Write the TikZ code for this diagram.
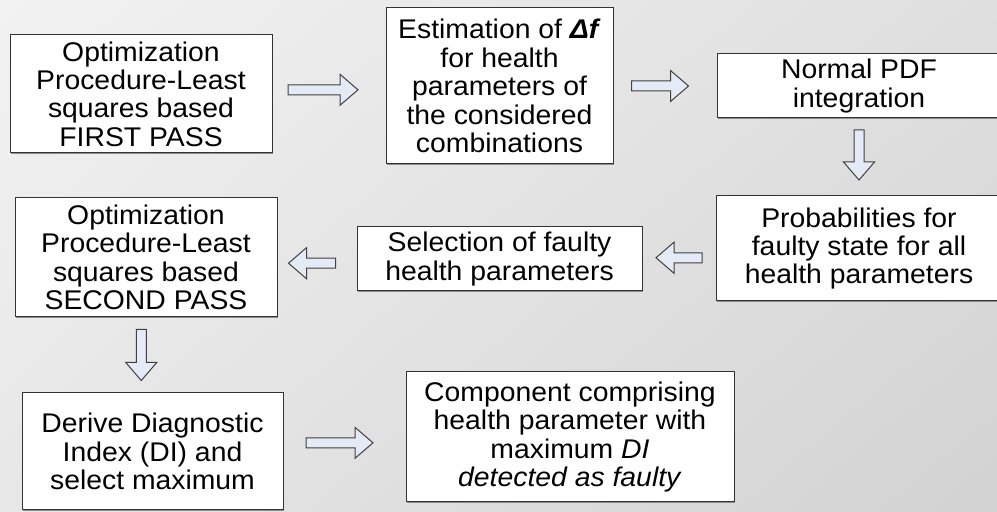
\documentclass[tikz,border=0pt]{standalone}
\usepackage{fontspec}
\setmainfont{Liberation Sans}[FakeStretch=1.05]
\usetikzlibrary{shadows,shadings}

\definecolor{bgUL}{HTML}{F2F2F2}
\definecolor{bgUR}{HTML}{DFDFDF}
\definecolor{bgLL}{HTML}{E7E7E7}
\definecolor{bgLR}{HTML}{D2D2D2}
\definecolor{arrowfill}{HTML}{E4EBF6}

\tikzset{
  stagebox/.style={draw=black!80, line width=0.5pt, fill=white, align=center, inner sep=0pt,
    font=\fontsize{13.5}{14.2}\selectfont,
    drop shadow={shadow xshift=0.7pt, shadow yshift=-0.7pt, fill=black!45, opacity=1}},
  hollow/.style={draw=black!75, line width=0.5pt, fill=arrowfill},
  pics/flowarrow/.style={code={
    \draw[hollow] (-#1/2,-5) -- (#1/2-18,-5) -- (#1/2-18,-15.5) -- (#1/2,0)
      -- (#1/2-18,15.5) -- (#1/2-18,5) -- (-#1/2,5) -- cycle;}}
}

\begin{document}
\begin{tikzpicture}[x=0.5pt, y=-0.5pt]

	% page and background
	\useasboundingbox (0,0) rectangle (997,512);
	\shade[upper left=bgUL, upper right=bgUR, lower left=bgLL, lower right=bgLR] (0,0) rectangle (997,512);
	\clip (0,0) rectangle (997,512);

	% first row
	\node[stagebox, minimum width=131, minimum height=59] (firstpass) at (141,94)
		{Optimization\\Procedure-Least\\squares based\\FIRST PASS};
	\node[stagebox, minimum width=113.5, minimum height=78] (estimation) at (499.5,86)
		{Estimation of \textbf{\textit{Δf}}\\for health\\parameters of\\the considered\\combinations};
	\node[stagebox, minimum width=142, minimum height=32] (pdfint) at (859,86)
		{Normal PDF\\integration};

	% second row
	\node[stagebox, minimum width=143, minimum height=52.5] (probs) at (859,248.5)
		{Probabilities for\\faulty state for all\\health parameters};
	\node[stagebox, minimum width=142.5, minimum height=32] (selection) at (499.5,259)
		{Selection of faulty\\health parameters};
	\node[stagebox, minimum width=131, minimum height=59.5] (secondpass) at (146,257.5)
		{Optimization\\Procedure-Least\\squares based\\SECOND PASS};

	% third row
	\node[stagebox, minimum width=130.5, minimum height=58.5] (diagindex) at (152.5,451.5)
		{Derive Diagnostic\\Index (DI) and\\select maximum};
	\node[stagebox, minimum width=164, minimum height=65] (faultycomp) at (570,437)
		{Component comprising\\health parameter with\\maximum \textit{DI}\\\textit{detected as faulty}};

	% block arrows between the stages
	\path (firstpass) -- coordinate[midway] (a1) (estimation);
	\path (estimation) -- coordinate[midway] (a2) (pdfint);
	\path (pdfint) -- coordinate[midway] (a3) (probs);
	\path (probs) -- coordinate[midway] (a4) (selection);
	\path (selection) -- coordinate[midway] (a5) (secondpass);
	\path (secondpass) -- coordinate[midway] (a6) (diagindex);
	\path (diagindex) -- coordinate[midway] (a7) (faultycomp);

	\pic[xshift=-3pt] at (a1) {flowarrow=70};
	\pic[xshift=-2.5pt] at (a2) {flowarrow=57};
	\pic[yshift=1pt, rotate=-90] at (a3) {flowarrow=50};
	\pic[yshift=-2pt, rotate=180] at (a4) {flowarrow=46};
	\pic[xshift=-2.5pt, yshift=-2.5pt, rotate=180] at (a5) {flowarrow=47};
	\pic[xshift=-4pt, rotate=-90] at (a6) {flowarrow=51};
	\pic[xshift=-2.5pt, yshift=1pt] at (a7) {flowarrow=67};

\end{tikzpicture}
\end{document}
